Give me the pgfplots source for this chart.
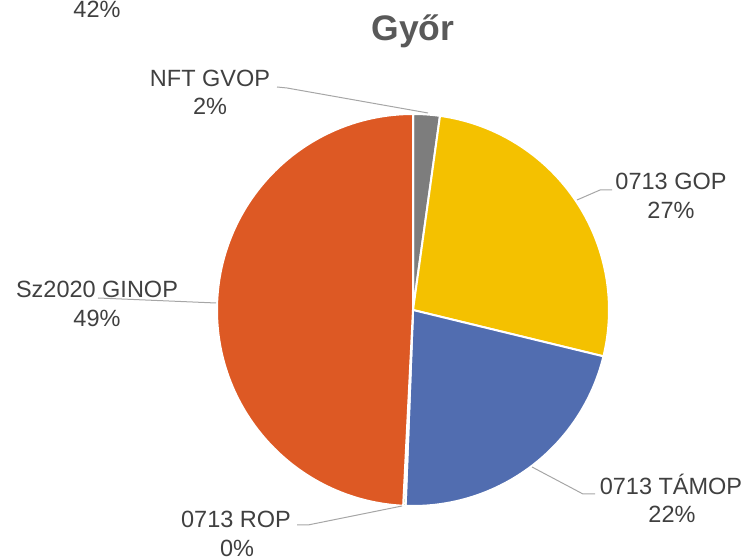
\documentclass[border=0pt]{standalone}
\usepackage{pgfplots}
\usepackage{pgfplotstable}
\pgfplotsset{compat=1.18}
\usepackage{fontspec}
\setmainfont{Liberation Sans}
\definecolor{cgray}{RGB}{125,125,125}
\definecolor{cyellow}{RGB}{244,193,0}
\definecolor{cblue}{RGB}{81,109,176}
\definecolor{cgreen}{RGB}{112,173,71}
\definecolor{corange}{RGB}{221,89,36}
\definecolor{ctext}{RGB}{64,64,64}
\definecolor{ctitle}{RGB}{89,89,89}
\definecolor{cline}{RGB}{166,166,166}
\tikzset{lbl/.style={anchor=base, text=ctext, font=\fontsize{23.5}{28}\selectfont}}
\pgfplotstableread{
name value
NFTGVOP 2.2
GOP 26.6
TAMOP 21.8
ROP 0.2
GINOP 49.2
}\piedata
\pgfplotstablegetelem{0}{value}\of\piedata \let\vA\pgfplotsretval
\pgfplotstablegetelem{1}{value}\of\piedata \let\vB\pgfplotsretval
\pgfplotstablegetelem{2}{value}\of\piedata \let\vC\pgfplotsretval
\pgfplotstablegetelem{3}{value}\of\piedata \let\vD\pgfplotsretval
\pgfplotstablegetelem{4}{value}\of\piedata \let\vE\pgfplotsretval
\pgfmathsetmacro\aA{90}
\pgfmathsetmacro\aB{\aA-3.6*\vA}
\pgfmathsetmacro\aC{\aB-3.6*\vB}
\pgfmathsetmacro\aD{\aC-3.6*\vC}
\pgfmathsetmacro\aE{\aD-3.6*\vD}
\pgfmathsetmacro\aF{\aE-3.6*\vE}
\begin{document}%
\begin{tikzpicture}
\begin{axis}[
  scale only axis, width=748pt, height=559pt,
  xmin=0, xmax=748, ymin=0, ymax=559,
  hide axis, clip=false,
]
\def\R{196pt}
\fill[cgray,draw=white,line width=2pt,line join=round] (axis cs:413,249) -- ++(\aA:\R) arc[start angle=\aA,end angle=\aB,radius=\R] -- cycle;
\fill[cyellow,draw=white,line width=2pt,line join=round] (axis cs:413,249) -- ++(\aB:\R) arc[start angle=\aB,end angle=\aC,radius=\R] -- cycle;
\fill[cblue,draw=white,line width=2pt,line join=round] (axis cs:413,249) -- ++(\aC:\R) arc[start angle=\aC,end angle=\aD,radius=\R] -- cycle;
\fill[cgreen,draw=white,line width=2pt,line join=round] (axis cs:413,249) -- ++(\aD:\R) arc[start angle=\aD,end angle=\aE,radius=\R] -- cycle;
\fill[corange,draw=white,line width=2pt,line join=round] (axis cs:413,249) -- ++(\aE:\R) arc[start angle=\aE,end angle=\aF,radius=\R] -- cycle;
% leader lines
\addplot[cline, line width=1pt, mark=none] coordinates {(277,472) (287,471) (428,446)};
\addplot[cline, line width=1pt, mark=none] coordinates {(612,369) (600,369) (577,359)};
\addplot[cline, line width=1pt, mark=none] coordinates {(98,261) (216,256)};
\addplot[cline, line width=1pt, mark=none] coordinates {(532,92) (583,65) (595,65)};
\addplot[cline, line width=1pt, mark=none] coordinates {(402,53) (308,34) (297,34)};
% labels
\node[lbl] at (axis cs:210,472) {NFT GVOP};
\node[lbl] at (axis cs:210,444) {2\%};
\node[lbl] at (axis cs:671,369) {0713 GOP};
\node[lbl] at (axis cs:671,340) {27\%};
\node[lbl] at (axis cs:97,261) {Sz2020 GINOP};
\node[lbl] at (axis cs:97,232) {49\%};
\node[lbl] at (axis cs:671,64) {0713 TÁMOP};
\node[lbl] at (axis cs:672,36) {22\%};
\node[lbl] at (axis cs:236,31) {0713 ROP};
\node[lbl] at (axis cs:237,2) {0\%};
\node[lbl] at (axis cs:97,541) {42\%};
\node[anchor=base, text=ctitle, font=\fontsize{35.5}{40}\selectfont\bfseries] at (axis cs:413,518) {Győr};
\coordinate (sw) at (axis cs:0,0);
\coordinate (ne) at (axis cs:748,559);
\end{axis}
\pgfresetboundingbox
\path (sw) rectangle (ne);
\end{tikzpicture}%
\end{document}
